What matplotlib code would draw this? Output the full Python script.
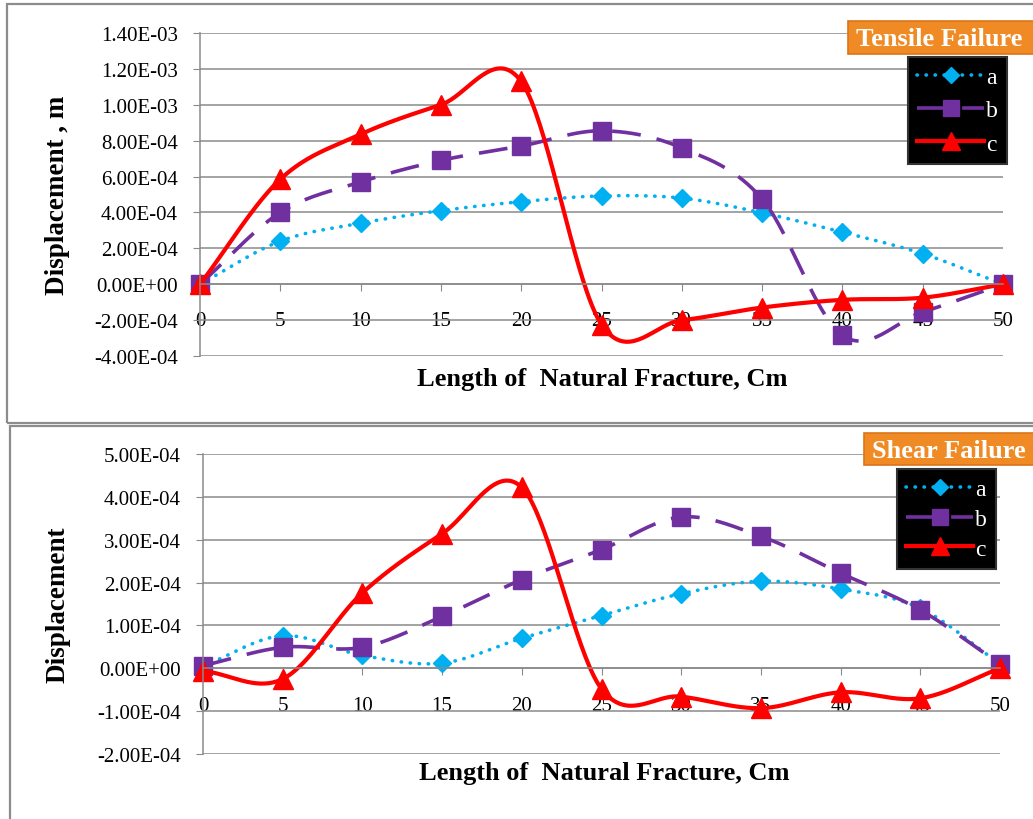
import matplotlib
matplotlib.use("Agg")
import matplotlib.pyplot as plt
import numpy as np
from matplotlib.patches import Rectangle, FancyBboxPatch

plt.rcParams["font.family"] = ["Liberation Serif", "DejaVu Serif"]

# ---- data ----
length = [0, 5, 10, 15, 20, 25, 30, 35, 40, 45, 50]

tensile_a = [0, 2.40e-4, 3.40e-4, 4.10e-4, 4.60e-4, 4.92e-4, 4.80e-4, 3.98e-4, 2.90e-4, 1.70e-4, 0]
tensile_b = [0, 4.00e-4, 5.70e-4, 6.90e-4, 7.70e-4, 8.55e-4, 7.60e-4, 4.75e-4, -2.85e-4, -1.55e-4, 0]
tensile_c = [0, 5.85e-4, 8.35e-4, 1.00e-3, 1.13e-3, -2.25e-4, -2.00e-4, -1.30e-4, -0.87e-4, -0.75e-4, 0]

shear_a = [0.05e-4, 0.76e-4, 0.30e-4, 0.12e-4, 0.70e-4, 1.23e-4, 1.74e-4, 2.03e-4, 1.85e-4, 1.40e-4, 0.10e-4]
shear_b = [0.06e-4, 0.49e-4, 0.49e-4, 1.21e-4, 2.07e-4, 2.77e-4, 3.53e-4, 3.08e-4, 2.22e-4, 1.36e-4, 0.10e-4]
shear_c = [-0.06e-4, -0.25e-4, 1.76e-4, 3.14e-4, 4.22e-4, -0.48e-4, -0.66e-4, -0.93e-4, -0.56e-4, -0.70e-4, 0]

series_names = ["a", "b", "c"]

top_yticks = [-4e-4, -2e-4, 0, 2e-4, 4e-4, 6e-4, 8e-4, 1.0e-3, 1.2e-3, 1.4e-3]
top_ylabels = ["-4.00E-04", "-2.00E-04", "0.00E+00", "2.00E-04", "4.00E-04",
               "6.00E-04", "8.00E-04", "1.00E-03", "1.20E-03", "1.40E-03"]
bot_yticks = [-2e-4, -1e-4, 0, 1e-4, 2e-4, 3e-4, 4e-4, 5e-4]
bot_ylabels = ["-2.00E-04", "-1.00E-04", "0.00E+00", "1.00E-04", "2.00E-04",
               "3.00E-04", "4.00E-04", "5.00E-04"]

CYAN = "#00B0F0"
PURPLE = "#7030A0"
RED = "#FF0000"
GRID = "#8a8a8a"


def smooth(x, y, n=40):
    # Excel-like smoothed line (Catmull-Rom through the points)
    x = np.asarray(x, float)
    y = np.asarray(y, float)
    px = np.concatenate([[2 * x[0] - x[1]], x, [2 * x[-1] - x[-2]]])
    py = np.concatenate([[2 * y[0] - y[1]], y, [2 * y[-1] - y[-2]]])
    t = np.linspace(0, 1, n)
    xs, ys = [], []
    for i in range(len(x) - 1):
        for p, out in ((px, xs), (py, ys)):
            p0, p1, p2, p3 = p[i:i + 4]
            out.append(0.5 * (2 * p1 + (p2 - p0) * t
                              + (2 * p0 - 5 * p1 + 4 * p2 - p3) * t ** 2
                              + (3 * p1 - p0 - 3 * p2 + p3) * t ** 3))
    return np.concatenate(xs), np.concatenate(ys)


styles = [
    dict(color=CYAN, lw=2.6, ls=(0, (0.1, 2.4)), dash_capstyle="round",
         marker="D", ms=9.5),
    dict(color=PURPLE, lw=2.6, ls=(0, (8, 4.5)), marker="s", ms=13),
    dict(color=RED, lw=3.0, ls="-", marker="^", ms=14),
]


def draw(ax, data, yticks, ylabels, label_pad):
    for vals, name, st in zip(data, series_names, styles):
        sx, sy = smooth(length, vals)
        ax.plot(sx, sy, color=st["color"], lw=st["lw"], ls=st["ls"],
                dash_capstyle=st.get("dash_capstyle", "butt"),
                solid_capstyle="round", clip_on=False)
        ax.plot(length, vals, ls="none", marker=st["marker"], ms=st["ms"],
                color=st["color"], mec=st["color"], clip_on=False)
        # legend proxy
        ax.plot([], [], color=st["color"], lw=st["lw"], ls=st["ls"],
                dash_capstyle=st.get("dash_capstyle", "butt"),
                marker=st["marker"], ms=st["ms"] * 0.9, label=name)
    ax.set_xlim(0, 50)
    ax.set_ylim(yticks[0], yticks[-1])
    ax.set_yticks(yticks)
    ax.set_yticklabels(ylabels)
    ax.set_xticks(length)
    ax.set_xticklabels([str(v) for v in length])
    ax.yaxis.grid(True, color=GRID, lw=1.1)
    ax.set_axisbelow(True)
    for s in ["top", "right"]:
        ax.spines[s].set_visible(False)
    ax.spines["left"].set_color(GRID)
    ax.spines["left"].set_linewidth(1.1)
    ax.spines["bottom"].set_position(("data", 0))
    ax.spines["bottom"].set_color(GRID)
    ax.spines["bottom"].set_linewidth(1.1)
    ax.tick_params(axis="y", length=5, color=GRID, labelsize=15, pad=11)
    ax.tick_params(axis="x", length=5, color=GRID, labelsize=15, pad=label_pad)
    ax.set_facecolor("none")


fig = plt.figure(figsize=(10.33, 8.2), dpi=100)

# panel frames
fig.patches.append(Rectangle((7 / 1033, 1 - 424 / 820), 1.1, 419 / 820,
                             transform=fig.transFigure, fill=False,
                             ec="#8c8c8c", lw=1.6))
fig.patches.append(Rectangle((10 / 1033, -0.05), 1.1, (820 - 427) / 820 + 0.05,
                             transform=fig.transFigure, fill=False,
                             ec="#8c8c8c", lw=1.6))

ax1 = fig.add_axes([200 / 1033, 1 - 357 / 820, 803 / 1033, 323 / 820])
draw(ax1, [tensile_a, tensile_b, tensile_c], top_yticks, top_ylabels, 14)

ax2 = fig.add_axes([203 / 1033, 1 - 755 / 820, 797 / 1033, 300 / 820])
draw(ax2, [shear_a, shear_b, shear_c], bot_yticks, bot_ylabels, 15)

# axis titles
fig.text(602 / 1033, 1 - 380 / 820, "Length of  Natural Fracture, Cm",
         ha="center", va="center", fontsize=19, fontweight="bold")
fig.text(604 / 1033, 1 - 774 / 820, "Length of  Natural Fracture, Cm",
         ha="center", va="center", fontsize=19, fontweight="bold")
fig.text(57 / 1033, 1 - 195 / 820, "Displacement , m", rotation=90,
         ha="center", va="center", fontsize=19.5, fontweight="bold")
fig.text(58 / 1033, 1 - 605 / 820, "Displacement", rotation=90,
         ha="center", va="center", fontsize=19.5, fontweight="bold")

# legends (black boxes)
for ax, (lx, ly), sp in ((ax1, (908, 58), 0.5), (ax2, (897, 470), 0.35)):
    leg = ax.legend(loc="upper left", bbox_to_anchor=(lx / 1033, 1 - ly / 820),
                    bbox_transform=fig.transFigure, frameon=True,
                    facecolor="black", edgecolor="#333333", framealpha=1,
                    fancybox=False, labelcolor="white", fontsize=17,
                    handlelength=2.8, handletextpad=0.1, labelspacing=sp,
                    borderpad=0.4, borderaxespad=0)
    leg.get_frame().set_linewidth(1.5)

# orange title boxes
for (x0, y0, x1, y1, txt) in ((848, 22, 1045, 55, "Tensile Failure"),
                              (864, 434, 1045, 466, "Shear Failure")):
    fig.patches.append(FancyBboxPatch((x0 / 1033, 1 - y1 / 820),
                                      (x1 - x0) / 1033, (y1 - y0) / 820,
                                      boxstyle="square,pad=0",
                                      transform=fig.transFigure,
                                      fc="#F08A24", ec="#D9761A", lw=1.2))
    fig.text((x0 + 8) / 1033, 1 - ((y0 + y1) / 2 + 1) / 820, txt,
             ha="left", va="center", fontsize=19, fontweight="bold",
             color="white")

fig.savefig("out.png", dpi=100)
